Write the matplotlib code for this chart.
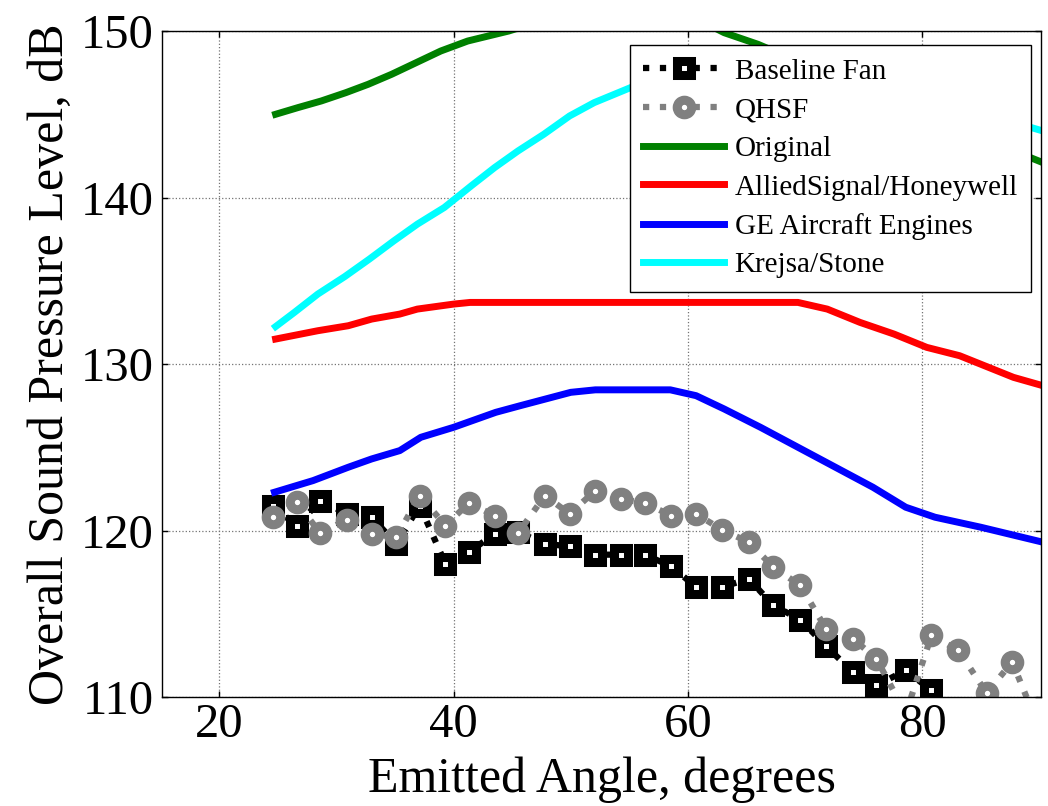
import matplotlib
matplotlib.use("Agg")
import matplotlib.pyplot as plt

plt.rcParams['font.family'] = ['Liberation Serif', 'DejaVu Serif']

# measured data (emitted angle, deg)
angle = [24.6, 26.6, 28.6, 30.9, 33.0, 35.1, 37.1, 39.3, 41.3, 43.5, 45.5,
         47.8, 49.9, 52.1, 54.3, 56.3, 58.6, 60.7, 62.9, 65.2, 67.3, 69.6,
         71.8, 74.1, 76.1, 78.6, 80.8, 83.1, 85.5, 87.7, 89.9]
baseline = [121.5, 120.25, 121.8, 121.0, 120.8, 119.2, 121.5, 118.0, 118.7,
            119.8, 119.9, 119.2, 119.05, 118.55, 118.55, 118.55, 117.85,
            116.6, 116.6, 117.1, 115.5, 114.65, 113.05, 111.5, 110.7, 111.6,
            110.4, 108.6, 108.3, 107.9, 107.5]
qhsf = [120.8, 121.7, 119.85, 120.65, 119.8, 119.6, 122.1, 120.3, 121.65,
        120.9, 119.85, 122.1, 121.0, 122.4, 121.9, 121.65, 120.9, 121.0,
        120.05, 119.3, 117.8, 116.7, 114.1, 113.5, 112.3, 109.0, 113.7,
        112.8, 110.25, 112.1, 108.3]

# prediction models
orig_x = [24.8, 26.7, 28.7, 30.8, 32.7, 34.7, 36.8, 38.9, 41.2, 44.7, 47.0,
          50.0, 55.0, 60.0, 63.1, 66.0, 70.0, 75.0, 80.0, 85.0, 90.3]
orig_y = [145.0, 145.4, 145.8, 146.3, 146.8, 147.4, 148.1, 148.8, 149.4,
          150.0, 150.5, 151.0, 151.3, 151.0, 149.9, 149.2, 148.0, 146.6,
          145.1, 143.6, 142.1]

allied_x = [24.8, 28.4, 31.0, 33.0, 35.4, 36.9, 40.0, 41.4, 69.4, 71.9, 74.7,
            77.6, 80.4, 83.2, 87.8, 90.3]
allied_y = [131.5, 132.0, 132.3, 132.7, 133.0, 133.3, 133.6, 133.7, 133.7,
            133.3, 132.5, 131.8, 131.0, 130.5, 129.2, 128.7]

ge_x = [24.7, 28.0, 31.0, 33.0, 35.4, 37.2, 40.0, 43.6, 45.7, 50.0, 52.1,
        58.5, 60.7, 63.1, 66.2, 69.4, 72.6, 75.8, 78.6, 81.1, 85.0, 90.3]
ge_y = [122.3, 123.0, 123.8, 124.3, 124.8, 125.6, 126.2, 127.1, 127.5, 128.3,
        128.45, 128.45, 128.1, 127.3, 126.2, 125.0, 123.8, 122.6, 121.4,
        120.8, 120.2, 119.3]

krejsa_x = [24.8, 26.4, 28.4, 30.7, 32.8, 34.9, 36.9, 39.2, 41.5, 43.5, 45.5,
            47.7, 49.9, 52.0, 55.1, 58.0, 62.0, 66.0, 70.0, 75.0, 80.0, 85.0,
            90.3]
krejsa_y = [132.25, 133.1, 134.2, 135.25, 136.3, 137.4, 138.4, 139.4, 140.7,
            141.8, 142.8, 143.8, 144.9, 145.7, 146.6, 147.4, 148.0, 148.2,
            148.0, 147.2, 146.2, 145.1, 144.0]

fig = plt.figure(figsize=(10.48, 8.06), dpi=100)
ax = fig.add_axes((0.1546, 0.1352, 0.8387, 0.8263))

dots = (0, (1, 1.7))
ax.plot(angle, baseline, linestyle=dots, lw=4.5, color='black', marker='s',
        ms=10.5, mew=6.5, mec='black', mfc='white', label='Baseline Fan')
ax.plot(angle, qhsf, linestyle=dots, lw=4.5, color='gray', marker='o',
        ms=10.5, mew=6.5, mec='gray', mfc='white', label='QHSF')
ax.plot(orig_x, orig_y, lw=5, color='green', label='Original')
ax.plot(allied_x, allied_y, lw=5, color='red', label='AlliedSignal/Honeywell')
ax.plot(ge_x, ge_y, lw=5, color='blue', label='GE Aircraft Engines')
ax.plot(krejsa_x, krejsa_y, lw=5, color='cyan', label='Krejsa/Stone')

ax.set_xlim(15.1, 90.15)
ax.set_ylim(110, 150)
ax.set_xticks([20, 40, 60, 80])
ax.set_yticks([110, 120, 130, 140, 150])
ax.grid(True, linestyle=':', linewidth=0.9, color='0.45')
ax.tick_params(direction='in', length=4, width=1, top=True, right=True,
               labelsize=35)
ax.tick_params(axis='x', pad=4)
ax.tick_params(axis='y', pad=6)
for s in ax.spines.values():
    s.set_linewidth(1.0)

ax.set_xlabel('Emitted Angle, degrees', fontsize=36)
ax.set_ylabel('Overall Sound Pressure Level, dB', fontsize=36)
ax.xaxis.set_label_coords(0.5, -0.0886)
ax.yaxis.set_label_coords(-0.100, 0.5)

leg = ax.legend(loc='upper right', bbox_to_anchor=(0.9886, 0.979),
                borderaxespad=0, fontsize=21, handlelength=2.8,
                handletextpad=0.35, labelspacing=0.42, borderpad=0.45,
                fancybox=False, framealpha=1, edgecolor='black')
leg.get_frame().set_linewidth(1.0)

fig.savefig('out.png', dpi=100)
